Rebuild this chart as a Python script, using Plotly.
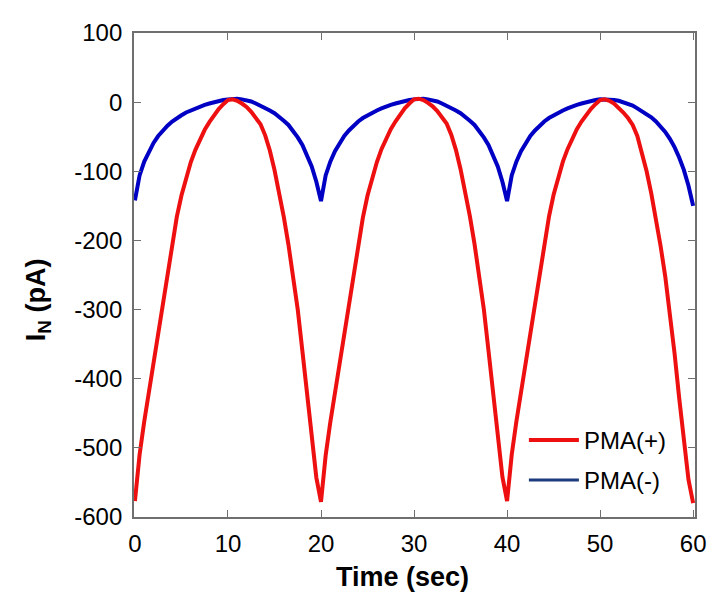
import plotly.graph_objects as go

# time axis sampled every 0.5 s
time_sec = [i * 0.5 for i in range(121)]

pma_plus = [
    -577, -510, -462, -420, -377, -335, -292, -248, -204, -166,
    -135, -109, -87, -69, -53, -40, -29, -19, -10, -3,
    3, 4, 2, -2, -7, -14, -22, -32, -48, -70,
    -98, -130, -166, -206, -250, -300, -360, -425, -490, -543,
    -578, -511, -463, -421, -378, -335, -293, -249, -205, -167,
    -135, -109, -87, -68, -52, -39, -28, -18, -9, -2,
    4, 5, 3, -1, -6, -13, -21, -31, -47, -69,
    -97, -129, -165, -205, -249, -299, -359, -424, -489, -542,
    -577, -510, -462, -420, -377, -334, -292, -248, -204, -166,
    -134, -108, -86, -68, -52, -39, -28, -18, -10, -3,
    3, 4, 2, -2, -8, -15, -23, -33, -49, -72,
    -100, -132, -168, -208, -252, -303, -363, -428, -493, -546,
    -580,
]

pma_minus = [
    -142, -106, -86, -71, -59, -49, -41, -34, -28, -23,
    -19, -15, -12, -9, -6, -4, -2, 0, 2, 3,
    4, 5, 5, 4, 3, 1, -2, -5, -8, -12,
    -16, -21, -27, -33, -41, -51, -62, -76, -93, -115,
    -143, -106, -86, -71, -59, -49, -41, -34, -28, -23,
    -19, -15, -12, -9, -6, -4, -2, 0, 2, 3,
    4, 5, 5, 4, 3, 1, -2, -5, -8, -12,
    -16, -21, -27, -33, -41, -51, -62, -76, -93, -115,
    -143, -106, -86, -71, -59, -49, -41, -34, -28, -23,
    -19, -15, -12, -9, -6, -4, -2, 0, 2, 3,
    4, 4, 4, 3, 2, 0, -2, -5, -9, -13,
    -17, -22, -28, -35, -43, -53, -65, -80, -98, -121,
    -150,
]

x_ticks = [0, 10, 20, 30, 40, 50, 60]
y_ticks = [-600, -500, -400, -300, -200, -100, 0, 100]

RED = "#EE1010"
BLUE = "#0000C4"
NAVY = "#1C3A7E"
FONT = "Liberation Sans, Arial, sans-serif"

fig = go.Figure()
fig.add_trace(go.Scatter(x=time_sec, y=pma_minus, mode="lines",
                         line=dict(color=BLUE, width=4), showlegend=False))
fig.add_trace(go.Scatter(x=time_sec, y=pma_plus, mode="lines", name="PMA(+)",
                         legendgroup="a",
                         line=dict(color=RED, width=4)))
fig.add_trace(go.Scatter(x=[None], y=[None], mode="lines", name="PMA(-)",
                         legendgroup="b",
                         line=dict(color=NAVY, width=3)))

axis_common = dict(
    showline=True, linecolor="#6F6F6F", linewidth=1.8, mirror="ticks",
    ticks="inside", ticklen=7, tickcolor="#6F6F6F", tickwidth=1.2,
    showgrid=False, zeroline=False,
    tickfont=dict(family=FONT, size=24, color="black"),
)

fig.update_xaxes(range=[-0.1, 60.2], tickvals=x_ticks,
                 ticktext=[str(v) for v in x_ticks], ticklabelstandoff=4,
                 **axis_common)
fig.update_yaxes(range=[-600, 100], tickvals=y_ticks,
                 ticktext=[str(v) for v in y_ticks], ticklabelstandoff=5,
                 **axis_common)

fig.add_annotation(text="<b>Time (sec)</b>", xref="paper", yref="paper",
                   x=0.4795, y=-0.124, xanchor="center", yanchor="middle",
                   showarrow=False, font=dict(family=FONT, size=27, color="black"))
fig.add_annotation(text="<b>I<sub>N</sub> (pA)</b>", xref="paper", yref="paper",
                   x=-0.171, y=0.448, xanchor="center", yanchor="middle",
                   textangle=-90, showarrow=False,
                   font=dict(family=FONT, size=27, color="black"))

fig.update_layout(
    width=723, height=592,
    margin=dict(l=134, r=28, t=33, b=75),
    paper_bgcolor="white", plot_bgcolor="white",
    legend=dict(x=0.695, y=0.205, xanchor="left", yanchor="top",
                font=dict(family=FONT, size=24, color="black"),
                bgcolor="rgba(0,0,0,0)", tracegroupgap=6,
                itemwidth=50, traceorder="grouped"),
)

fig.write_html("out.html")
